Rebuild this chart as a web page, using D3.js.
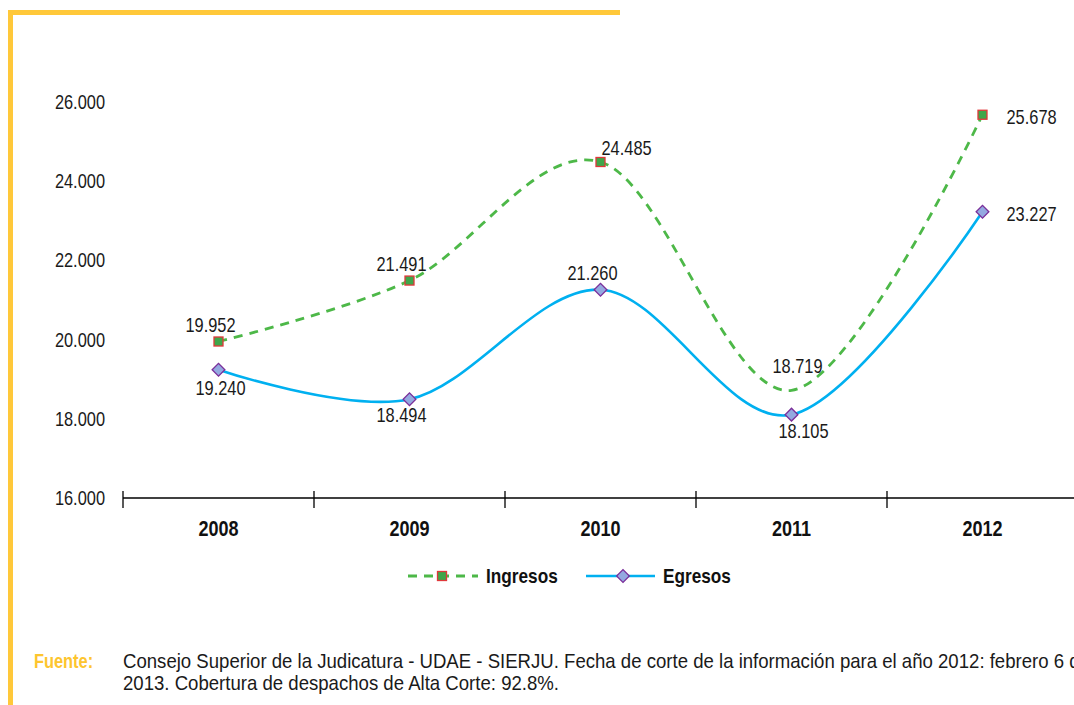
<!DOCTYPE html>
<html>
<head>
<meta charset="utf-8">
<script src="https://cdn.jsdelivr.net/npm/d3@7"></script>
<style>
  body { margin: 0; background: #fff; }
  svg { display: block; font-family: "Liberation Sans", Arial, sans-serif; }
</style>
</head>
<body>
<script>
const width = 1074;
const height = 705;

// Data
const years = ["2008", "2009", "2010", "2011", "2012"];
const ingresos = [19952, 21491, 24485, 18719, 25678];
const egresos  = [19240, 18494, 21260, 18105, 23227];
const yTicks = [16000, 18000, 20000, 22000, 24000, 26000];

// where each value label sits relative to its marker
const ingresosLabelPos = ["above-left", "above-left", "above-right", "above", "right"];
const egresosLabelPos  = ["below", "below-left", "above-left", "below-right", "right"];

const fmt = d3.formatLocale({ decimal: ",", thousands: ".", grouping: [3] }).format(",d");

// the original uses a condensed face; squeeze Liberation Sans horizontally
const SQ = 0.82;
const at = (px, py, s = SQ) => `translate(${px},${py}) scale(${s},1)`;

const svg = d3.select("body")
  .append("svg")
  .attr("width", width)
  .attr("height", height);

// yellow frame
svg.append("rect").attr("x", 8).attr("y", 10).attr("width", 612).attr("height", 5).attr("fill", "#FFC83A");
svg.append("rect").attr("x", 8).attr("y", 10).attr("width", 5).attr("height", height - 10).attr("fill", "#FFC83A");

// Scales
const x = d3.scaleBand()
  .domain(years)
  .range([123, 1078]);

const y = d3.scaleLinear()
  .domain([16000, 26000])
  .range([498, 102]);

const cx = d => x(d) + x.bandwidth() / 2;

// Y labels (no axis line)
svg.append("g")
  .selectAll("text")
  .data(yTicks)
  .enter()
  .append("text")
  .attr("transform", d => at(105, y(d)))
  .attr("dy", "0.35em")
  .attr("text-anchor", "end")
  .attr("font-size", 20)
  .attr("fill", "#1a1a1a")
  .text(d => fmt(d));

// X axis
const xAxis = svg.append("g");
xAxis.append("line")
  .attr("x1", 123).attr("x2", width)
  .attr("y1", y(16000)).attr("y2", y(16000))
  .attr("stroke", "#000").attr("stroke-width", 1.3);

xAxis.selectAll(".tick")
  .data(years)
  .enter()
  .append("line")
  .attr("class", "tick")
  .attr("x1", d => x(d)).attr("x2", d => x(d))
  .attr("y1", y(16000) - 7).attr("y2", y(16000) + 10)
  .attr("stroke", "#000").attr("stroke-width", 1.3);

xAxis.selectAll(".year")
  .data(years)
  .enter()
  .append("text")
  .attr("class", "year")
  .attr("transform", d => at(cx(d), 536))
  .attr("text-anchor", "middle")
  .attr("font-size", 22)
  .attr("font-weight", "bold")
  .attr("fill", "#111")
  .text(d => d);

// Lines
const line = d3.line()
  .x(d => cx(d.year))
  .y(d => y(d.value))
  .curve(d3.curveCatmullRom.alpha(0));

const ingData = years.map((yr, i) => ({ year: yr, value: ingresos[i], pos: ingresosLabelPos[i] }));
const egrData = years.map((yr, i) => ({ year: yr, value: egresos[i], pos: egresosLabelPos[i] }));

svg.append("path")
  .datum(ingData)
  .attr("d", line)
  .attr("fill", "none")
  .attr("stroke", "#4DB848")
  .attr("stroke-width", 2.8)
  .attr("stroke-dasharray", "9,7");

svg.append("path")
  .datum(egrData)
  .attr("d", line)
  .attr("fill", "none")
  .attr("stroke", "#00B0F0")
  .attr("stroke-width", 2.6);

// Markers
function square(g, px, py) {
  g.append("rect")
    .attr("x", px - 4.5).attr("y", py - 4.5)
    .attr("width", 9).attr("height", 9)
    .attr("fill", "#3FA64A")
    .attr("stroke", "#E0383A")
    .attr("stroke-width", 1.3);
}
function diamond(g, px, py) {
  g.append("rect")
    .attr("x", -4.5).attr("y", -4.5)
    .attr("width", 9).attr("height", 9)
    .attr("transform", `translate(${px},${py}) rotate(45)`)
    .attr("fill", "#94A9E0")
    .attr("stroke", "#7A2E9A")
    .attr("stroke-width", 1.3);
}

const markers = svg.append("g");
// the 2011 Ingresos marker is not shown in the original
ingData.filter(d => d.year !== "2011").forEach(d => square(markers, cx(d.year), y(d.value)));
egrData.forEach(d => diamond(markers, cx(d.year), y(d.value)));

// Value labels
const offsets = {
  "above-left":  { dx: -8,  dy: -17, anchor: "middle" },
  "above-right": { dx: 1,   dy: -14, anchor: "start" },
  "above":       { dx: 6,   dy: -24, anchor: "middle" },
  "right":       { dx: 24,  dy: 2,   anchor: "start" },
  "below":       { dx: 2,   dy: 18,  anchor: "middle" },
  "below-left":  { dx: -8,  dy: 16,  anchor: "middle" },
  "below-right": { dx: 12,  dy: 16,  anchor: "middle" }
};

svg.append("g")
  .selectAll("text")
  .data(ingData.concat(egrData))
  .enter()
  .append("text")
  .attr("transform", d => at(cx(d.year) + offsets[d.pos].dx, y(d.value) + offsets[d.pos].dy))
  .attr("dy", "0.35em")
  .attr("text-anchor", d => offsets[d.pos].anchor)
  .attr("font-size", 20)
  .attr("fill", "#1a1a1a")
  .text(d => fmt(d.value));

// Legend
const legend = svg.append("g").attr("transform", "translate(0,576)");
legend.append("line")
  .attr("x1", 408).attr("x2", 478).attr("y1", 0).attr("y2", 0)
  .attr("stroke", "#4DB848").attr("stroke-width", 2.8)
  .attr("stroke-dasharray", "9,7");
square(legend, 442, 0);
legend.append("text")
  .attr("transform", at(486, 0))
  .attr("dy", "0.35em")
  .attr("font-size", 21).attr("font-weight", "bold").attr("fill", "#111")
  .text("Ingresos");

legend.append("line")
  .attr("x1", 586).attr("x2", 655).attr("y1", 0).attr("y2", 0)
  .attr("stroke", "#00B0F0").attr("stroke-width", 2.6);
diamond(legend, 623, 0);
legend.append("text")
  .attr("transform", at(663, 0))
  .attr("dy", "0.35em")
  .attr("font-size", 21).attr("font-weight", "bold").attr("fill", "#111")
  .text("Egresos");

// Source note
const note = svg.append("g");
note.append("text")
  .attr("transform", at(34, 668))
  .attr("font-size", 20).attr("font-weight", "bold").attr("fill", "#FDC52F")
  .text("Fuente:");
note.append("text")
  .attr("transform", at(123, 668, 0.93))
  .attr("font-size", 20).attr("fill", "#1a1a1a")
  .text("Consejo Superior de la Judicatura - UDAE - SIERJU. Fecha de corte de la información para el año 2012: febrero 6 de");
note.append("text")
  .attr("transform", at(123, 690, 0.93))
  .attr("font-size", 20).attr("fill", "#1a1a1a")
  .text("2013. Cobertura de despachos de Alta Corte: 92.8%.");
</script>
</body>
</html>
